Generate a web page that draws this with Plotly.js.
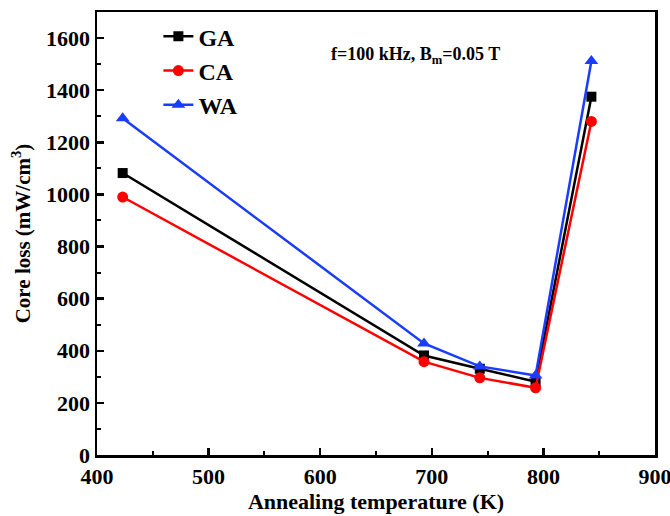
<!DOCTYPE html>
<html>
<head>
<meta charset="utf-8">
<script src="https://cdn.plot.ly/plotly-3.0.1.min.js"></script>
<style>html,body{margin:0;padding:0;background:#fff;}#chart{width:670px;height:516px;}</style>
</head>
<body>
<div id="chart"></div>
<script>
const temperature = [423, 693, 743, 793, 843];
const gaLoss = [1082, 382, 331, 281, 1375];
const caLoss = [990, 358, 296, 258, 1280];
const waLoss = [1292, 428, 340, 305, 1512];
const seriesNames = ['GA', 'CA', 'WA'];

const font = 'Liberation Serif, Times New Roman, serif';
function trace(y, name, color, symbol, size) {
  return {x: temperature, y: y, name: name, type: 'scatter', mode: 'lines+markers',
    line: {color: color, width: 2.5}, marker: {color: color, symbol: symbol, size: size}};
}
const data = [
  trace(gaLoss, seriesNames[0], '#000000', 'square', 10),
  trace(caLoss, seriesNames[1], '#ff0000', 'circle', 11),
  trace(waLoss, seriesNames[2], '#1a3cff', 'triangle-up', 12)
];
const layout = {
  width: 670, height: 516,
  margin: {l: 97, r: 15, t: 12, b: 61},
  paper_bgcolor: '#fff', plot_bgcolor: '#fff',
  font: {family: font, color: '#000'},
  showlegend: true,
  legend: {x: 0.11, y: 0.995, xanchor: 'left', yanchor: 'top', bgcolor: 'rgba(0,0,0,0)',
    font: {family: font, size: 24, weight: 'bold', color: '#000'}, tracegroupgap: 0, itemwidth: 30},
  xaxis: {range: [400, 900], dtick: 100, tick0: 400, showgrid: false, zeroline: false,
    showline: true, linecolor: '#000', linewidth: 2.5, mirror: true,
    ticks: 'inside', ticklen: 7, tickwidth: 2.5, tickcolor: '#000',
    minor: {dtick: 50, ticks: 'inside', ticklen: 4, tickwidth: 2, tickcolor: '#000'},
    tickfont: {family: font, size: 22, weight: 'bold'}, ticklabeloverflow: 'allow',
    title: {text: 'Annealing temperature (K)', font: {family: font, size: 22, weight: 'bold'}, standoff: 2}},
  yaxis: {range: [0, 1700], dtick: 200, tick0: 0, showgrid: false, zeroline: false,
    showline: true, linecolor: '#000', linewidth: 2.5, mirror: true,
    ticks: 'inside', ticklen: 7, tickwidth: 2.5, tickcolor: '#000',
    minor: {dtick: 100, ticks: 'inside', ticklen: 4, tickwidth: 2, tickcolor: '#000'},
    tickfont: {family: font, size: 22, weight: 'bold'}, ticklabeloverflow: 'allow',
    title: {text: 'Core loss (mW/cm<sup>3</sup>)', font: {family: font, size: 21, weight: 'bold'}, standoff: 10}},
  annotations: [{x: 685, y: 1535, xref: 'x', yref: 'y', showarrow: false,
    text: 'f=100 kHz, B<sub>m</sub>=0.05 T', font: {family: font, size: 18, weight: 'bold', color: '#000'}}]
};
Plotly.newPlot('chart', data, layout, {displayModeBar: false, staticPlot: true});
</script>
</body>
</html>
